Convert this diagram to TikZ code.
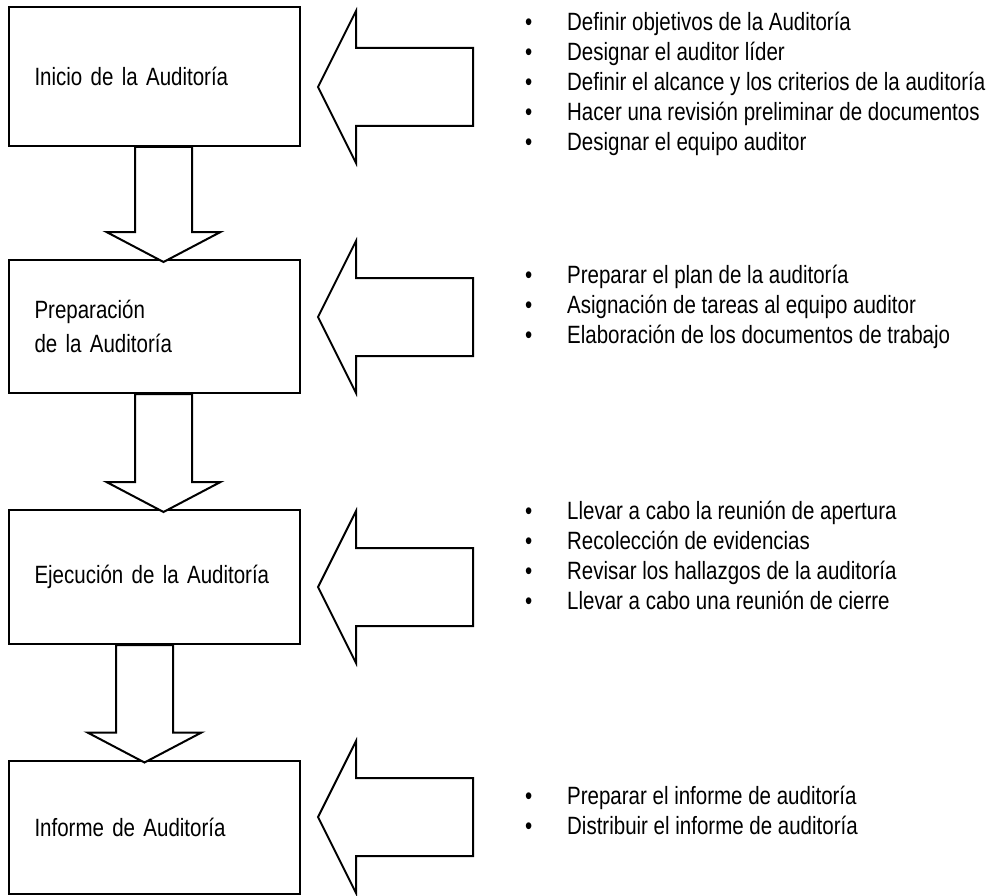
\documentclass[tikz,border=0pt]{standalone}
\usepackage{fontspec}
\setmainfont{Liberation Sans}[FakeStretch=0.82]
\usetikzlibrary{calc}
\tikzset{stage/.style={black,draw=black,line width=2pt,rectangle,minimum width=291pt,inner xsep=25.5pt,text width=240pt,align=left}}
\tikzset{blockarrow/.style={draw=black,line width=2pt,fill=white,line join=miter}}
\tikzset{tasks/.style={black,inner sep=0pt,anchor=base west}}
\tikzset{inarrow/.pic={\draw[blockarrow] (0,0) -- (38,-76) -- (38,-39) -- (155,-39) -- (155,39) -- (38,39) -- (38,76) -- cycle;}}

\begin{document}
\begin{tikzpicture}[x=1pt,y=-1pt,font=\fontsize{25}{30}\selectfont]
    \useasboundingbox (0,0) rectangle (1006,896);

    \node[stage,minimum height=139pt] (inicio) at (154.5,76.5) {Inicio de la Auditoría};
    \node[stage,minimum height=133pt] (prep) at (154.5,326.5) {Preparación\\[4pt]de la Auditoría};
    \node[stage,minimum height=134pt] (ejec) at (154.5,577) {Ejecución de la Auditoría};
    \node[stage,minimum height=133pt] (inf) at (154.5,827) {Informe de Auditoría};

    % listas de actividades
    \node[tasks] (l1) at (525,31) {\begin{tabular}[t]{@{}p{42pt}@{}l@{}}
        \textbullet & Definir objetivos de la Auditoría\\
        \textbullet & Designar el auditor líder\\
        \textbullet & Definir el alcance y los criterios de la auditoría\\
        \textbullet & Hacer una revisión preliminar de documentos\\
        \textbullet & Designar el equipo auditor
    \end{tabular}};
    \node[tasks] (l2) at (525,283) {\begin{tabular}[t]{@{}p{42pt}@{}l@{}}
        \textbullet & Preparar el plan de la auditoría\\
        \textbullet & Asignación de tareas al equipo auditor\\
        \textbullet & Elaboración de los documentos de trabajo
    \end{tabular}};
    \node[tasks] (l3) at (525,519) {\begin{tabular}[t]{@{}p{42pt}@{}l@{}}
        \textbullet & Llevar a cabo la reunión de apertura\\
        \textbullet & Recolección de evidencias\\
        \textbullet & Revisar los hallazgos de la auditoría\\
        \textbullet & Llevar a cabo una reunión de cierre
    \end{tabular}};
    \node[tasks] (l4) at (525,804) {\begin{tabular}[t]{@{}p{42pt}@{}l@{}}
        \textbullet & Preparar el informe de auditoría\\
        \textbullet & Distribuir el informe de auditoría
    \end{tabular}};

    % flechas de entrada
    \pic at ($(inicio.east)+(17,10.5)$) {inarrow};
    \pic at ($(prep.east)+(17,-9.5)$) {inarrow};
    \pic at ($(ejec.east)+(17,10)$) {inarrow};
    \pic at ($(inf.east)+(17,-10)$) {inarrow};

    % flechas entre etapas
    \draw[blockarrow] ($(inicio.south)+(-19.5,0)$) -- ($(prep.north)+(-19.5,-27)$) -- ($(prep.north)+(-48,-27)$)
        -- ($(prep.north)+(9,3)$) -- ($(prep.north)+(66,-27)$) -- ($(prep.north)+(37.5,-27)$) -- ($(inicio.south)+(37.5,0)$) -- cycle;
    \draw[blockarrow] ($(prep.south)+(-19.5,0)$) -- ($(ejec.north)+(-19.5,-27)$) -- ($(ejec.north)+(-48,-27)$)
        -- ($(ejec.north)+(9,3)$) -- ($(ejec.north)+(66,-27)$) -- ($(ejec.north)+(37.5,-27)$) -- ($(prep.south)+(37.5,0)$) -- cycle;
    \draw[blockarrow] ($(ejec.south)+(-38.5,0)$) -- ($(inf.north)+(-38.5,-27)$) -- ($(inf.north)+(-67,-27)$)
        -- ($(inf.north)+(-10,3)$) -- ($(inf.north)+(47,-27)$) -- ($(inf.north)+(18.5,-27)$) -- ($(ejec.south)+(18.5,0)$) -- cycle;

\end{tikzpicture}
\end{document}
